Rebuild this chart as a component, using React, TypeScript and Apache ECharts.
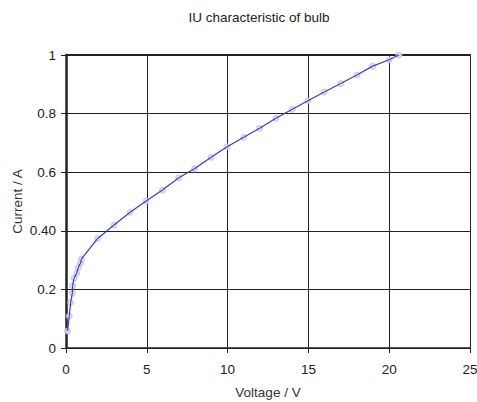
import React, { useEffect, useRef } from "react";
import * as echarts from "echarts";

const titleText = "IU characteristic of bulb";
const xName = "Voltage / V";
const yName = "Current / A";
const voltage = [0.1, 0.2, 0.29, 0.39, 0.41, 0.5, 0.66, 0.76, 0.9, 0.95, 1.96, 2.97, 3.97, 4.96, 5.97, 6.98, 7.95, 8.98, 9.97, 11.0, 11.98, 12.99, 14.0, 14.97, 15.98, 17.0, 18.0, 18.98, 20.0, 20.6];
const current = [0.058, 0.109, 0.155, 0.187, 0.212, 0.238, 0.255, 0.275, 0.29, 0.303, 0.374, 0.42, 0.463, 0.502, 0.539, 0.581, 0.612, 0.651, 0.687, 0.719, 0.75, 0.784, 0.815, 0.844, 0.874, 0.903, 0.932, 0.962, 0.984, 1.0];
const yTickLabels: Record<string, string> = { "0": "0", "0.2": "0.2", "0.4": "0.40", "0.6": "0.6", "0.8": "0.8", "1": "1" };

export default function App() {
  const ref = useRef<HTMLDivElement>(null);
  useEffect(() => {
    if (!ref.current) return;
    const chart = echarts.init(ref.current, null, { renderer: "svg" });
    const font = "Liberation Sans";
    const lineCol = "#222";
    const pts = voltage.map((v, i) => [v, current[i]]);
    chart.setOption({
      animation: false,
      backgroundColor: "#fff",
      textStyle: { fontFamily: font },
      grid: { left: 66, right: 7, top: 55, bottom: 54, containLabel: false, outerBoundsMode: "none" },
      graphic: [
        {
          type: "text",
          x: 259,
          y: 17,
          style: { text: titleText, font: `13.5px ${font}`, fill: "#222", textAlign: "center", textVerticalAlign: "middle" },
        },
      ],
      xAxis: [
        {
          type: "value",
          min: 0,
          max: 25,
          interval: 5,
          name: xName,
          nameLocation: "middle",
          nameGap: 37,
          nameTextStyle: { fontSize: 13.5, color: "#333", fontFamily: font },
          axisLine: { show: true, onZero: false, lineStyle: { color: lineCol, width: 1.5 } },
          axisTick: { show: true, length: 5, lineStyle: { color: lineCol } },
          axisLabel: { fontSize: 13.5, color: "#222", margin: 14, fontFamily: font },
          splitLine: { show: true, lineStyle: { color: lineCol, width: 1 } },
        },
        {
          type: "value",
          position: "top",
          min: 0,
          max: 25,
          interval: 5,
          axisLine: { show: true, onZero: false, lineStyle: { color: lineCol, width: 2 } },
          axisTick: { show: false },
          axisLabel: { show: false },
          splitLine: { show: false },
        },
      ],
      yAxis: {
        type: "value",
        min: 0,
        max: 1,
        interval: 0.2,
        name: yName,
        nameLocation: "middle",
        nameGap: 42,
        nameMoveOverlap: false,
        nameTextStyle: { fontSize: 13.5, color: "#333", fontFamily: font },
        axisLine: { show: true, onZero: false, lineStyle: { color: lineCol, width: 2.5 } },
        axisTick: { show: true, length: 5, lineStyle: { color: lineCol } },
        axisLabel: {
          fontSize: 13.5,
          color: "#222",
          margin: 10,
          fontFamily: font,
          formatter: (v: number) => yTickLabels[String(Math.round(v * 10) / 10)] ?? String(v),
        },
        splitLine: { show: true, lineStyle: { color: lineCol, width: 1 } },
      },
      series: [
        {
          type: "scatter",
          data: pts,
          symbol: "emptyCircle",
          symbolSize: 5,
          itemStyle: { color: "#c2c2e8", borderWidth: 1 },
          z: 2,
          clip: false,
        },
        {
          type: "line",
          data: pts,
          showSymbol: false,
          symbol: "none",
          lineStyle: { color: "#3a3fb0", width: 1.2 },
          z: 3,
          clip: false,
        },
      ],
    });
    return () => chart.dispose();
  }, []);
  return <div ref={ref} style={{ position: "fixed", left: 0, top: 0, width: 477, height: 402 }} />;
}
